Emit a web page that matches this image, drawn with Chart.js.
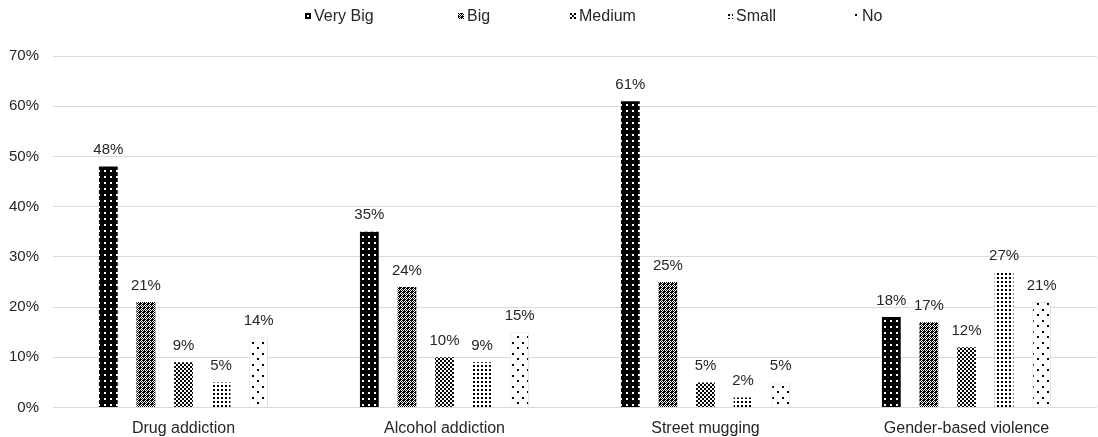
<!DOCTYPE html>
<html>
<head>
<meta charset="utf-8">
<script src="https://cdn.jsdelivr.net/npm/chart.js@4.4.1/dist/chart.umd.min.js"></script>
<style>
  html, body { margin:0; padding:0; background:#fff; }
  #wrap { position:relative; width:1098px; height:437px; font-family:'Liberation Sans', Arial, sans-serif; }
  .leg { position:absolute; top:6px; display:flex; align-items:center; gap:3px; font-size:16px; color:#262626; line-height:20px; }
  .leg i { display:inline-block; width:6px; height:6px; }
</style>
</head>
<body>
<div id="wrap">
  <canvas id="c" width="1098" height="437"></canvas>
  <div id="legend"></div>
</div>
<script>
// ── data ─────────────────────────────────────────────────────────────────────
const CATEGORIES = ["Drug addiction", "Alcohol addiction", "Street mugging", "Gender-based violence"];
const SERIES     = ["Very Big", "Big", "Medium", "Small", "No"];
const VERY_BIG   = [48, 35, 61, 18];
const BIG        = [21, 24, 25, 17];
const MEDIUM     = [9, 10, 5, 12];
const SMALL      = [5, 9, 2, 27];
const NO         = [14, 15, 5, 21];
const Y_TICKS    = [0, 10, 20, 30, 40, 50, 60, 70];

const DATA = [VERY_BIG, BIG, MEDIUM, SMALL, NO];
const LEGEND_X = [305, 458, 570, 727, 853];

// ── patterns ─────────────────────────────────────────────────────────────────
function tile(w, h, bg, fg, dots) {
  const c = document.createElement("canvas");
  c.width = w; c.height = h;
  const g = c.getContext("2d");
  g.fillStyle = bg; g.fillRect(0, 0, w, h);
  g.fillStyle = fg;
  dots.forEach(([x, y, s]) => g.fillRect(x, y, s, s));
  return c;
}
const TILES = [
  tile(6, 6, "#000", "#fff", [[2, 2, 2]]),
  tile(4, 4, "#000", "#fff", [[1, 0, 1], [0, 1, 1], [2, 1, 1], [1, 2, 1], [3, 2, 1], [2, 3, 1]]),
  tile(4, 4, "#fff", "#000", [[0, 0, 2], [2, 2, 2]]),
  tile(4, 4, "#fff", "#000", [[1, 1, 2]]),
  tile(10, 11, "#fff", "#000", [[2, 1, 2], [7, 6, 2]]),
];
const ctx2d = document.getElementById("c").getContext("2d");
const PATTERNS = TILES.map(t => ctx2d.createPattern(t, "repeat"));

// html legend
document.getElementById("legend").innerHTML = SERIES.map((s, i) =>
  `<div class="leg" style="left:${LEGEND_X[i]}px"><i style="background:url(${TILES[i].toDataURL()})"></i><span>${s}</span></div>`
).join("");

// value labels above bars
const valueLabels = {
  id: "valueLabels",
  afterDatasetsDraw(chart) {
    const { ctx } = chart;
    ctx.save();
    ctx.font = "15px 'Liberation Sans', Arial, sans-serif";
    ctx.fillStyle = "#262626";
    ctx.textAlign = "center";
    ctx.textBaseline = "bottom";
    chart.data.datasets.forEach((ds, i) => {
      chart.getDatasetMeta(i).data.forEach((bar, j) => {
        ctx.fillText(ds.data[j] + "%", bar.x, bar.y - 9);
      });
    });
    ctx.restore();
  }
};

Chart.defaults.font.family = "'Liberation Sans', Arial, sans-serif";
Chart.defaults.font.size = 15;
Chart.defaults.color = "#262626";

new Chart(document.getElementById("c"), {
  type: "bar",
  data: {
    labels: CATEGORIES,
    datasets: SERIES.map((s, i) => ({
      label: s,
      data: DATA[i],
      backgroundColor: PATTERNS[i],
      borderColor: i === 4 ? "#e4e4e4" : "transparent",
      borderWidth: i === 4 ? 1 : 0,
      barPercentage: 0.5,
      categoryPercentage: 0.72,
    })),
  },
  options: {
    responsive: false,
    animation: false,
    layout: { padding: { left: 8, right: 1, top: 56, bottom: 0 } },
    plugins: {
      legend: { display: false },
      tooltip: { enabled: false },
    },
    scales: {
      x: {
        grid: { display: false },
        border: { display: false },
        ticks: { padding: 3, font: { size: 16 } },
        afterFit: ax => { ax.height = 29.5; },
      },
      y: {
        min: 0, max: 70,
        afterBuildTicks: ax => { ax.ticks = Y_TICKS.map(v => ({ value: v })); },
        grid: { color: "#d9d9d9", lineWidth: 1, drawTicks: false },
        border: { display: false },
        ticks: { padding: 14, callback: v => v + "%" },
        afterFit: ax => { ax.width = 45; },
      },
    },
  },
  plugins: [valueLabels],
});
</script>
</body>
</html>
